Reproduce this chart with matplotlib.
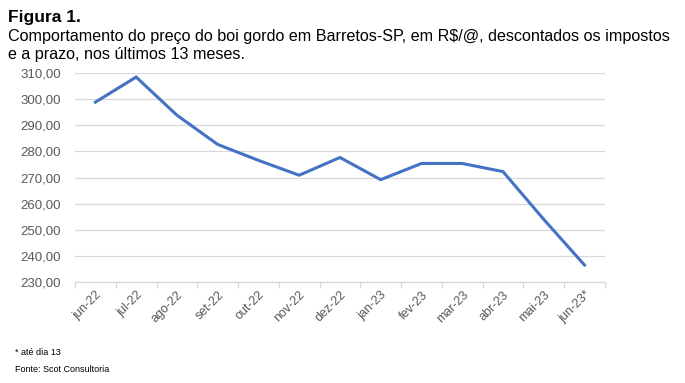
import matplotlib
matplotlib.use("Agg")
import matplotlib.pyplot as plt
import numpy as np

months = ["jun-22", "jul-22", "ago-22", "set-22", "out-22", "nov-22", "dez-22",
          "jan-23", "fev-23", "mar-23", "abr-23", "mai-23", "jun-23*"]
prices = [298.9, 308.5, 293.9, 282.7, 276.6, 270.9, 277.7,
          269.2, 275.4, 275.4, 272.3, 254.0, 236.5]
yticks = [230, 240, 250, 260, 270, 280, 290, 300, 310]

plt.rcParams['font.family'] = ['Liberation Sans', 'DejaVu Sans']

fig = plt.figure(figsize=(6.85, 3.83), dpi=100)
ax = fig.add_axes([0.1095, 0.2637, 0.7735, 0.5453])

x = np.arange(len(months))
ax.plot(x, prices, color="#4472C4", lw=2.2, solid_joinstyle="miter")

ax.set_xlim(-0.5, len(months) - 0.5)
ax.set_ylim(230, 310)
ax.set_yticks(yticks)
ax.set_yticklabels([f"{v:.2f}".replace(".", ",") for v in yticks],
                   fontsize=9.5, color="#595959")
ax.yaxis.grid(True, color="#d9d9d9", lw=0.9)
ax.set_axisbelow(True)
ax.tick_params(axis="y", length=0, pad=10)

ax.set_xticks(x)
ax.set_xticklabels(months, rotation=45, ha="right", rotation_mode="anchor",
                   fontsize=9, color="#595959")
ax.tick_params(axis="x", which="major", length=0, pad=5)
ax.set_xticks(np.arange(-0.5, len(months), 1), minor=True)
ax.tick_params(axis="x", which="minor", length=4, color="#d9d9d9", width=0.9)

for s in ["top", "right", "left"]:
    ax.spines[s].set_visible(False)
ax.spines["bottom"].set_color("#d9d9d9")
ax.spines["bottom"].set_linewidth(0.9)

fig.text(0.011, 0.955, "Figura 1.", fontsize=12.5, fontweight="bold", va="center")
fig.text(0.011, 0.905, "Comportamento do preço do boi gordo em Barretos-SP, em R$/@, descontados os impostos",
         fontsize=11.6, va="center")
fig.text(0.011, 0.857, "e a prazo, nos últimos 13 meses.", fontsize=11.6, va="center")
fig.text(0.022, 0.08, "* até dia 13", fontsize=6.5, va="center")
fig.text(0.022, 0.034, "Fonte: Scot Consultoria", fontsize=6.5, va="center")

fig.savefig("out.png", dpi=100)
